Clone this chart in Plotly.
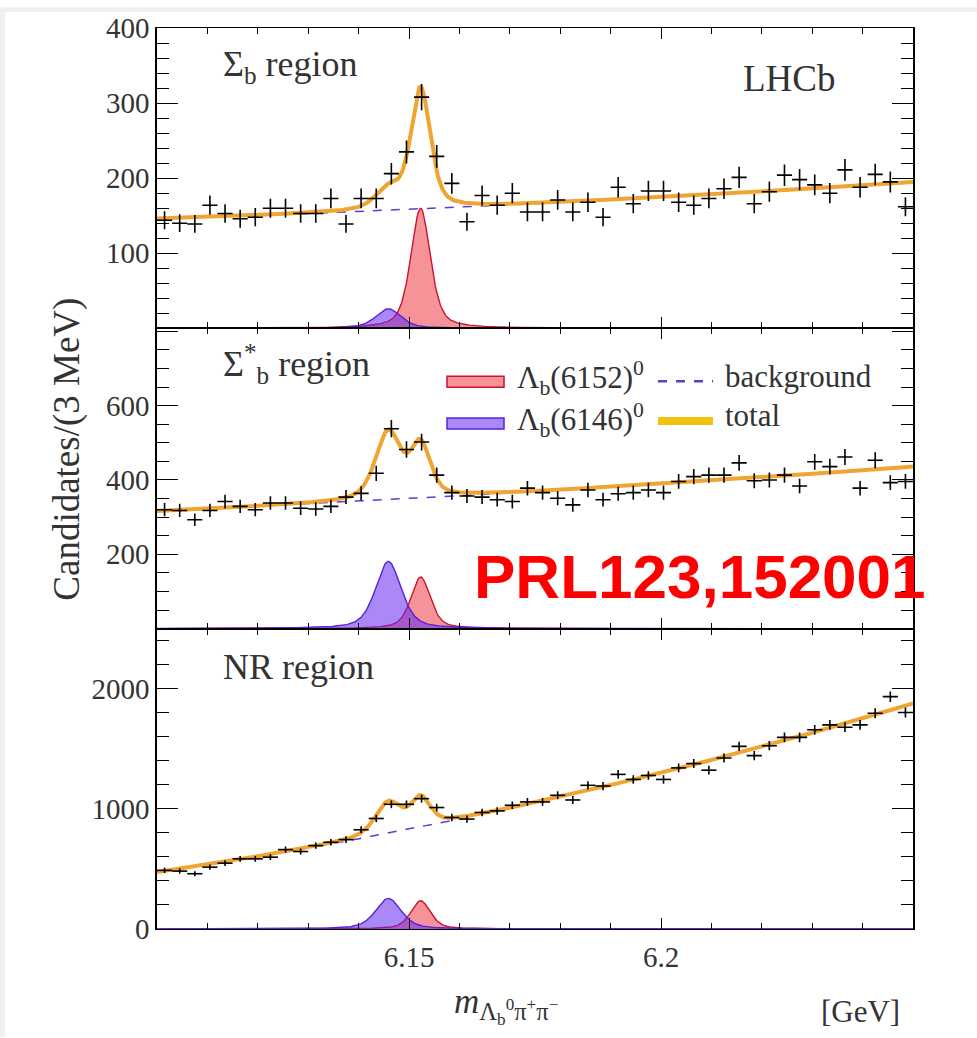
import numpy as np
import plotly.graph_objects as go
from plotly.subplots import make_subplots

# ---------------- data ----------------
MASS_LO, MASS_HI = 6.10, 6.25
BIN_WIDTH = 0.003
N_BINS = 50
bin_centers = MASS_LO + BIN_WIDTH * (np.arange(N_BINS) + 0.5)

sigma_b_counts = [144, 140, 139, 164, 153, 146, 148, 160, 160, 153,
                  153, 173, 139, 173, 173, 206, 235, 308, 229, 193,
                  142, 177, 164, 180, 155, 155, 171, 155, 168, 148,
                  188, 166, 183, 183, 168, 164, 173, 186, 201, 166,
                  182, 204, 198, 191, 180, 211, 188, 205, 195, 162]

sigma_bstar_counts = [320, 318, 293, 318, 342, 329, 320, 338, 338, 324,
                      322, 329, 354, 364, 418, 538, 482, 502, 413, 366,
                      357, 354, 347, 342, 378, 366, 351, 333, 373, 347,
                      363, 366, 373, 366, 396, 409, 413, 413, 446, 398,
                      400, 413, 384, 449, 436, 462, 378, 453, 393, 396]

nr_counts = [488, 482, 460, 515, 548, 584, 584, 598, 661, 645,
             694, 722, 744, 826, 920, 1038, 1038, 1085, 1011, 928,
             915, 970, 983, 1030, 1058, 1058, 1113, 1074, 1196, 1190,
             1287, 1245, 1278, 1245, 1341, 1377, 1322, 1424, 1520, 1443,
             1526, 1595, 1595, 1658, 1699, 1680, 1699, 1796, 1934, 1802]

PANEL_COUNTS = [sigma_b_counts, sigma_bstar_counts, nr_counts]
PANEL_LABELS = ["Σ<sub>b</sub> region", "Σ<sup>*</sup><sub>b</sub> region", "NR region"]

# fit-model parameters
MASS_6152, FWHM_6152 = 6.1523, 0.0046
MASS_6146, FWHM_6146 = 6.1459, 0.0060
LORENTZ_FRACTION = 0.5
HEIGHT_6152 = [160, 139, 235]
HEIGHT_6146 = [26, 181, 255]
BG_MID = [166, 369, 1052]       # background at centre of range
BG_SLOPE = [24.5, 60, 702.5]    # half-range linear change
BG_CURV = [4.5, 7, 123.5]       # quadratic term

Y_RANGES = [[0, 400], [0, 808], [0, 2500]]
Y_TICKVALS = [[0, 100, 200, 300, 400], [0, 200, 400, 600, 800], [0, 1000, 2000]]
Y_TICKTEXT = [["", "100", "200", "300", "400"], ["", "200", "400", "600", ""], ["0", "1000", "2000"]]
Y_MINOR = [20, 50, 200]

# ---------------- styles ----------------
RED_LINE, RED_FILL = "#d0102e", "rgba(236,48,60,0.52)"
BLUE_LINE, BLUE_FILL = "#5522dd", "rgba(100,40,240,0.55)"
BG_COLOR = "#5b3cd8"
TOTAL_COLOR = "#f0a532"
TOTAL_KEY = "#f4c20d"
SERIF = "Liberation Serif"
TXT = "#333"

W, H = 977, 1038
ML, MR, MT, MB = 157, 64, 21, 109
PW, PH = W - ML - MR, H - MT - MB


def px(x):
    return (x - ML) / PW


def py(y):
    return (H - MB - y) / PH


def line_shape(x, m, fwhm):
    u = (x - m) / fwhm
    g = np.exp(-4 * np.log(2) * u ** 2)
    lor = 1.0 / (1.0 + 4 * u ** 2)
    return LORENTZ_FRACTION * lor + (1 - LORENTZ_FRACTION) * g


grid = np.linspace(MASS_LO, MASS_HI, 751)
tgrid = (grid - 0.5 * (MASS_LO + MASS_HI)) / (0.5 * (MASS_HI - MASS_LO))

fig = make_subplots(rows=3, cols=1, shared_xaxes=True, vertical_spacing=0)

for i in range(3):
    r = i + 1
    red = HEIGHT_6152[i] * line_shape(grid, MASS_6152, FWHM_6152)
    blue = HEIGHT_6146[i] * line_shape(grid, MASS_6146, FWHM_6146)
    bg = BG_MID[i] + BG_SLOPE[i] * tgrid + BG_CURV[i] * tgrid ** 2
    total = bg + red + blue
    counts = np.array(PANEL_COUNTS[i], dtype=float)

    fig.add_trace(go.Scatter(x=grid, y=red, mode="lines", fill="tozeroy",
                             fillcolor=RED_FILL, line=dict(color=RED_LINE, width=1.4),
                             showlegend=False, hoverinfo="skip"), row=r, col=1)
    fig.add_trace(go.Scatter(x=grid, y=blue, mode="lines", fill="tozeroy",
                             fillcolor=BLUE_FILL, line=dict(color=BLUE_LINE, width=1.4),
                             showlegend=False, hoverinfo="skip"), row=r, col=1)
    fig.add_trace(go.Scatter(x=grid, y=bg, mode="lines",
                             line=dict(color=BG_COLOR, width=1.5, dash="dash"),
                             showlegend=False, hoverinfo="skip"), row=r, col=1)
    fig.add_trace(go.Scatter(x=grid, y=total, mode="lines",
                             line=dict(color=TOTAL_COLOR, width=4),
                             showlegend=False, hoverinfo="skip"), row=r, col=1)
    fig.add_trace(go.Scatter(x=bin_centers, y=counts, mode="markers",
                             marker=dict(size=2, color="black"),
                             error_x=dict(type="constant", value=BIN_WIDTH / 2, width=0,
                                          thickness=1.6, color="black"),
                             error_y=dict(type="data", array=np.sqrt(counts), width=0,
                                          thickness=1.6, color="black"),
                             showlegend=False), row=r, col=1)

    fig.update_xaxes(range=[MASS_LO, MASS_HI], showline=True, linecolor="black", linewidth=1.1,
                     mirror="ticks", ticks="inside", ticklen=11, tickwidth=1.4, tickcolor="black",
                     tickmode="array", tickvals=[6.15, 6.2], ticktext=["6.15", "6.2"],
                     minor=dict(tickmode="linear", tick0=MASS_LO, dtick=0.01, ticks="inside",
                                ticklen=6, tickwidth=1.4, tickcolor="black"),
                     showgrid=False, zeroline=False,
                     tickfont=dict(family=SERIF, size=29, color=TXT),
                     row=r, col=1)
    fig.update_yaxes(range=Y_RANGES[i], showline=True, linecolor="black", linewidth=1.5,
                     mirror="ticks", ticks="inside", ticklen=21, tickwidth=1.4, tickcolor="black",
                     tickmode="array", tickvals=Y_TICKVALS[i], ticktext=Y_TICKTEXT[i],
                     minor=dict(tickmode="linear", tick0=0, dtick=Y_MINOR[i], ticks="inside",
                                ticklen=12, tickwidth=1.4, tickcolor="black"),
                     showgrid=False, zeroline=False,
                     tickfont=dict(family=SERIF, size=29, color=TXT),
                     row=r, col=1)

fig.update_xaxes(ticklabelstandoff=2, row=3, col=1)

annotations = []
label_y = [60, 360, 665]
for i in range(3):
    annotations.append(dict(text=PANEL_LABELS[i], x=px(221), y=py(label_y[i]), xref="paper",
                            yref="paper", xanchor="left", yanchor="middle", showarrow=False,
                            font=dict(family=SERIF, size=36, color=TXT)))
annotations += [
    dict(text="LHCb", x=px(789), y=py(72), xref="paper", yref="paper", xanchor="center",
         yanchor="middle", showarrow=False, font=dict(family=SERIF, size=37, color=TXT)),
    dict(text="Λ<sub>b</sub>(6152)<sup>0</sup>", x=px(515), y=py(374), xref="paper", yref="paper",
         xanchor="left", yanchor="middle", showarrow=False, font=dict(family=SERIF, size=31, color=TXT)),
    dict(text="Λ<sub>b</sub>(6146)<sup>0</sup>", x=px(515), y=py(416), xref="paper", yref="paper",
         xanchor="left", yanchor="middle", showarrow=False, font=dict(family=SERIF, size=31, color=TXT)),
    dict(text="background", x=px(723), y=py(372), xref="paper", yref="paper",
         xanchor="left", yanchor="middle", showarrow=False, font=dict(family=SERIF, size=31, color=TXT)),
    dict(text="total", x=px(723), y=py(412), xref="paper", yref="paper",
         xanchor="left", yanchor="middle", showarrow=False, font=dict(family=SERIF, size=31, color=TXT)),
    dict(text="Candidates/(3 MeV)", x=px(67), y=py(446), xref="paper", yref="paper",
         xanchor="center", yanchor="middle", textangle=-90, showarrow=False,
         font=dict(family=SERIF, size=37, color=TXT)),
    dict(text="<i>m</i><sub>Λ<sub>b</sub><sup>0</sup>π<sup>+</sup>π<sup>−</sup></sub>", x=px(452), y=py(1006),
         xref="paper", yref="paper", xanchor="left", yanchor="middle", showarrow=False,
         font=dict(family=SERIF, size=35, color=TXT)),
    dict(text="[GeV]", x=px(860), y=py(1012), xref="paper", yref="paper", xanchor="center",
         yanchor="middle", showarrow=False, font=dict(family=SERIF, size=31, color=TXT)),
    dict(text="<b>PRL123,152001</b>", x=px(472), y=py(574), xref="paper", yref="paper",
         xanchor="left", yanchor="middle", showarrow=False,
         font=dict(family="Liberation Sans", size=62, color="#ff0000")),
]

shapes = [
    # light grey page border strips
    dict(type="rect", xref="paper", yref="paper", x0=px(0), x1=px(W), y0=py(5), y1=py(0),
         fillcolor="#f0f0f0", line=dict(width=0), layer="below"),
    dict(type="rect", xref="paper", yref="paper", x0=px(0), x1=px(5), y0=py(H), y1=py(0),
         fillcolor="#f0f0f0", line=dict(width=0), layer="below"),
    # legend keys
    dict(type="rect", xref="paper", yref="paper", x0=px(447), x1=px(504), y0=py(383), y1=py(372),
         fillcolor=RED_FILL, line=dict(color=RED_LINE, width=1.5)),
    dict(type="rect", xref="paper", yref="paper", x0=px(447), x1=px(504), y0=py(425), y1=py(414),
         fillcolor=BLUE_FILL, line=dict(color=BLUE_LINE, width=1.5)),
    dict(type="line", xref="paper", yref="paper", x0=px(658), x1=px(713), y0=py(377), y1=py(377),
         line=dict(color=BG_COLOR, width=2.5, dash="dash")),
    dict(type="line", xref="paper", yref="paper", x0=px(658), x1=px(713), y0=py(417), y1=py(417),
         line=dict(color=TOTAL_KEY, width=8)),
]

fig.update_layout(width=W, height=H, margin=dict(l=ML, r=MR, t=MT, b=MB),
                  paper_bgcolor="white", plot_bgcolor="white",
                  annotations=annotations, shapes=shapes, showlegend=False)

fig.write_html("out.html")
